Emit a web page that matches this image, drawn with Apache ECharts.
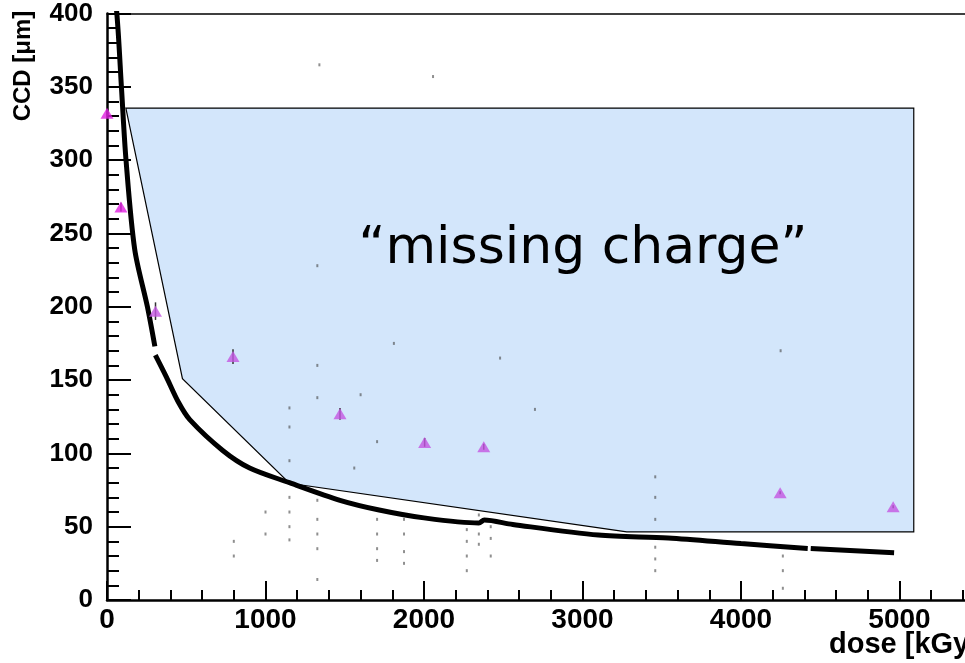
<!doctype html>
<html>
<head>
<meta charset="UTF-8">
<title>CCD vs dose</title>
<style>
	html, body { margin: 0; padding: 0; background: #fff; overflow: hidden; }
	/* the dose axis runs on past the right edge of the window */
	#chart { width: 1061px; height: 663px; }
</style>
</head>
<body>
<div id="chart"></div>
<script src="https://cdn.jsdelivr.net/npm/echarts@6/dist/echarts.min.js"></script>
<script>
// measured CCD band (three pieces, the band has two breaks)
var curveDoseA = [30, 62, 92, 120, 175, 255, 302];
var curveCcdA = [425, 400, 348, 300, 239, 200, 173];
var curveDoseB = [305, 375, 450, 522, 730, 900, 1151, 1470, 1717, 2000, 2346, 2380, 2560, 3100, 3541, 4000, 4421];
var curveCcdB = [167, 152, 135, 123, 102, 90, 80, 68, 61.4, 56, 52.5, 54.5, 51.5, 44.3, 42.3, 38.5, 35.2];
var curveDoseC = [4440, 4966];
var curveCcdC = [35.2, 32.3];

// triangles with error bars
var triDose = [0, 88, 306, 795, 1470, 2004, 2377, 4247, 4960];
var triCcd = [332, 268, 197, 166, 127, 107.5, 104.5, 73.2, 63.6];
var triErr = [2, 3, 6, 5, 4, 3, 2, 1, 1];

// "missing charge" area
var polyDose = [119, 5090, 5090, 3279, 1151, 476];
var polyCcd = [335.5, 335.5, 46.4, 46.4, 79.6, 151];

// faint background hits
var noiseDose = [1340, 2057, 1327, 1327, 1327, 1151, 1151, 1151, 1151, 1151, 1151, 1151,
	1327, 1327, 1327, 1327, 1327, 1704, 1704, 1704, 1704, 1704, 1874, 1874, 1874, 1874,
	2270, 2270, 2270, 2270, 2346, 2346, 2346, 2421, 2421, 2421, 3459, 3459, 3459, 3459,
	3459, 3459, 4264, 4264, 4264, 800, 800, 1000, 1000, 1810, 2480, 4250, 2700, 1600, 1560];
var noiseCcd = [365, 357, 228, 160, 138, 131, 118, 95, 70, 60, 50, 41,
	68, 55, 45, 35, 14, 108, 55, 45, 35, 27, 55, 45, 33, 25,
	48, 40, 30, 20, 58, 45, 38, 50, 42, 30, 84, 70, 55, 36,
	28, 20, 30, 20, 8, 40, 30, 60, 45, 175, 165, 170, 130, 140, 90];

var xTicks = [0, 1000, 2000, 3000, 4000, 5000];
var yTicks = [0, 50, 100, 150, 200, 250, 300, 350, 400];

function pairs(xs, ys) {
	var out = [];
	for (var i = 0; i < xs.length; i++) out.push([xs[i], ys[i]]);
	return out;
}

var chart = echarts.init(document.getElementById('chart'));
var labelFont = 'Liberation Sans, Arial, Helvetica, sans-serif';

var option = {
	animation: false,
	backgroundColor: '#fff',
	grid: { left: 107, right: 0, top: 13.5, bottom: 63 },
	xAxis: [{
		type: 'value',
		min: 0,
		max: 6000,
		interval: 1000,
		axisLine: { show: true, lineStyle: { color: '#000', width: 2.5 } },
		axisTick: { show: true, inside: true, length: 19, lineStyle: { color: '#000', width: 2 } },
		minorTick: { show: true, splitNumber: 5, length: 10, lineStyle: { color: '#000', width: 2 } },
		splitLine: { show: false },
		axisLabel: {
			margin: 6,
			color: '#000',
			fontFamily: labelFont,
			fontWeight: 'bold',
			fontSize: 28,
			formatter: function (v) { return xTicks.indexOf(v) >= 0 ? String(v) : ''; }
		}
	}, {
		type: 'value',
		position: 'top',
		min: 0,
		max: 6000,
		axisLine: { show: true, onZero: false, lineStyle: { color: '#000', width: 1.5 } },
		axisTick: { show: false },
		axisLabel: { show: false },
		splitLine: { show: false }
	}],
	yAxis: {
		type: 'value',
		min: 0,
		max: 400,
		interval: 50,
		axisLine: { show: true, lineStyle: { color: '#000', width: 2.5 } },
		axisTick: { show: true, inside: true, length: 24, lineStyle: { color: '#000', width: 2 } },
		minorTick: { show: true, splitNumber: 5, length: 12, lineStyle: { color: '#000', width: 2 } },
		splitLine: { show: false },
		axisLabel: {
			margin: 14,
			color: '#000',
			fontFamily: labelFont,
			fontWeight: 'bold',
			fontSize: 26,
			formatter: function (v) { return yTicks.indexOf(v) >= 0 ? String(v) : ''; }
		}
	},
	graphic: [{
		type: 'text',
		left: 829,
		top: 630,
		style: {
			text: 'dose [kGy]',
			fill: '#000',
			font: 'bold 29px ' + labelFont
		}
	}, {
		type: 'text',
		x: 23,
		y: 66,
		rotation: Math.PI / 2,
		style: {
			text: 'CCD [\u03bcm]',
			fill: '#000',
			font: 'bold 24px ' + labelFont,
			align: 'center',
			verticalAlign: 'middle'
		}
	}, {
		type: 'text',
		x: 583,
		y: 249,
		z: 50,
		style: {
			text: '\u201cmissing charge\u201d',
			fill: '#000',
			font: '52px "DejaVu Sans", sans-serif',
			align: 'center',
			verticalAlign: 'middle'
		}
	}],
	series: [{
		type: 'custom',
		name: 'area',
		z: 1,
		data: [[0]],
		renderItem: function (params, api) {
			var pts = [];
			for (var i = 0; i < polyDose.length; i++) {
				pts.push(api.coord([polyDose[i], polyCcd[i]]));
			}
			return {
				type: 'polygon',
				shape: { points: pts },
				style: { fill: '#d3e6fb', stroke: '#000', lineWidth: 1.2 }
			};
		}
	}, {
		type: 'scatter',
		name: 'noise',
		z: 2,
		symbol: 'rect',
		symbolSize: [2, 3],
		itemStyle: { color: '#444', opacity: 0.6 },
		data: pairs(noiseDose, noiseCcd)
	}, {
		type: 'line',
		z: 3,
		showSymbol: false,
		smooth: 0.3,
		lineStyle: { color: '#000', width: 5 },
		data: pairs(curveDoseA, curveCcdA)
	}, {
		type: 'line',
		z: 3,
		showSymbol: false,
		smooth: 0.3,
		lineStyle: { color: '#000', width: 5 },
		data: pairs(curveDoseB, curveCcdB)
	}, {
		type: 'line',
		z: 3,
		showSymbol: false,
		lineStyle: { color: '#000', width: 5 },
		data: pairs(curveDoseC, curveCcdC)
	}, {
		type: 'custom',
		name: 'errors',
		z: 4,
		data: triDose.map(function (d, i) { return [d, triCcd[i], triErr[i]]; }),
		renderItem: function (params, api) {
			var lo = api.coord([api.value(0), api.value(1) - api.value(2)]);
			var hi = api.coord([api.value(0), api.value(1) + api.value(2)]);
			return {
				type: 'line',
				shape: { x1: lo[0], y1: lo[1], x2: hi[0], y2: hi[1] },
				style: { stroke: '#333', lineWidth: 1.5 }
			};
		}
	}, {
		type: 'scatter',
		name: 'triangles',
		z: 5,
		clip: false,
		symbol: 'triangle',
		symbolSize: [13, 11],
		itemStyle: {
			color: function (p) { return p.dataIndex < 2 ? '#e01ee0' : '#c456e2'; }
		},
		data: pairs(triDose, triCcd)
	}]
};

chart.setOption(option);
</script>
</body>
</html>
